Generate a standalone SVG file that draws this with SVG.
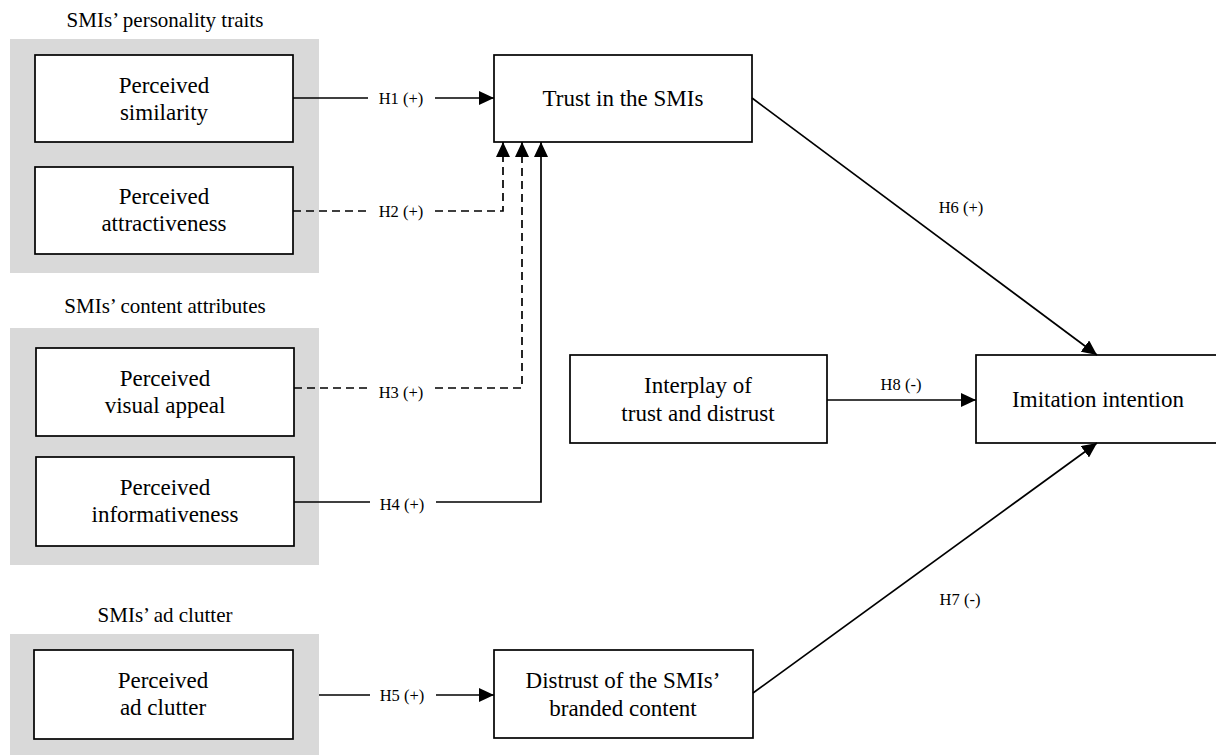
<svg xmlns="http://www.w3.org/2000/svg" width="1216" height="755" viewBox="0 0 1216 755">
<style>
.bg{fill:#d9d9d9}
.box{fill:#fff;stroke:#000;stroke-width:1.7}
.t{font-family:"Liberation Serif","Times New Roman",serif;font-size:23px;fill:#000;text-anchor:middle}
.title{font-family:"Liberation Serif","Times New Roman",serif;font-size:21px;fill:#000;text-anchor:middle}
.lbl{font-family:"Liberation Serif","Times New Roman",serif;font-size:16.5px;fill:#000;text-anchor:middle}
.ln{fill:none;stroke:#000;stroke-width:1.7}
.dash{stroke-dasharray:8 5}
</style>
<defs>
<marker id="arr" markerUnits="userSpaceOnUse" markerWidth="16" markerHeight="14" refX="15" refY="7" orient="auto">
<path d="M0,0 L15,7 L0,14 Z" fill="#000"/>
</marker>
</defs>
<rect width="1216" height="755" fill="#fff"/>

<g id="group-personality">
<rect class="bg" x="10" y="39" width="309" height="234"/>
<text class="title" x="165" y="27">SMIs’ personality traits</text>
</g>
<g id="group-content">
<rect class="bg" x="10" y="328" width="309" height="237"/>
<text class="title" x="165" y="313">SMIs’ content attributes</text>
</g>
<g id="group-clutter">
<rect class="bg" x="10" y="634" width="309" height="121"/>
<text class="title" x="165" y="622">SMIs’ ad clutter</text>
</g>

<g id="node-similarity">
<rect class="box" x="35" y="55" width="258" height="87"/>
<text class="t" x="164" y="93">Perceived</text>
<text class="t" x="164" y="120">similarity</text>
</g>
<g id="node-attractiveness">
<rect class="box" x="35" y="167" width="258" height="87"/>
<text class="t" x="164" y="204">Perceived</text>
<text class="t" x="164" y="231">attractiveness</text>
</g>
<g id="node-visual">
<rect class="box" x="36" y="348" width="258" height="88"/>
<text class="t" x="165" y="386">Perceived</text>
<text class="t" x="165" y="413">visual appeal</text>
</g>
<g id="node-informativeness">
<rect class="box" x="36" y="457" width="258" height="89"/>
<text class="t" x="165" y="495">Perceived</text>
<text class="t" x="165" y="522">informativeness</text>
</g>
<g id="node-adclutter">
<rect class="box" x="34" y="650" width="259" height="89"/>
<text class="t" x="163" y="688">Perceived</text>
<text class="t" x="163" y="715">ad clutter</text>
</g>
<g id="node-trust">
<rect class="box" x="494" y="55" width="258" height="87"/>
<text class="t" x="623" y="106">Trust in the SMIs</text>
</g>
<g id="node-interplay">
<rect class="box" x="570" y="355" width="257" height="88"/>
<text class="t" x="698" y="393">Interplay of</text>
<text class="t" x="698" y="421">trust and distrust</text>
</g>
<g id="node-distrust">
<rect class="box" x="494" y="650" width="259" height="88"/>
<text class="t" x="623" y="688">Distrust of the SMIs’</text>
<text class="t" x="623" y="716">branded content</text>
</g>
<g id="node-imitation">
<rect class="box" x="976" y="355" width="260" height="88"/>
<text class="t" x="1098" y="407">Imitation intention</text>
</g>

<g id="connectors">
<path class="ln" d="M293,98 H368"/>
<path class="ln" d="M435,98 H494" marker-end="url(#arr)"/>
<path class="ln dash" d="M293,211 H368"/>
<path class="ln dash" d="M435,211 H503 V142" marker-end="url(#arr)"/>
<path class="ln dash" d="M294,388 H368"/>
<path class="ln dash" d="M435,388 H522 V142" marker-end="url(#arr)"/>
<path class="ln" d="M294,502 H370"/>
<path class="ln" d="M436,502 H541 V142" marker-end="url(#arr)"/>
<path class="ln" d="M319,695 H370"/>
<path class="ln" d="M436,695 H494" marker-end="url(#arr)"/>
<path class="ln" d="M752,98 L1097,355" marker-end="url(#arr)"/>
<path class="ln" d="M753,693 L1097,443" marker-end="url(#arr)"/>
<path class="ln" d="M827,400 H976" marker-end="url(#arr)"/>
<text class="lbl" x="401" y="104">H1 (+)</text>
<text class="lbl" x="401" y="217">H2 (+)</text>
<text class="lbl" x="401" y="398">H3 (+)</text>
<text class="lbl" x="402" y="510">H4 (+)</text>
<text class="lbl" x="402" y="701">H5 (+)</text>
<text class="lbl" x="961" y="213">H6 (+)</text>
<text class="lbl" x="960" y="605">H7 (-)</text>
<text class="lbl" x="901" y="390">H8 (-)</text>
</g>
</svg>
